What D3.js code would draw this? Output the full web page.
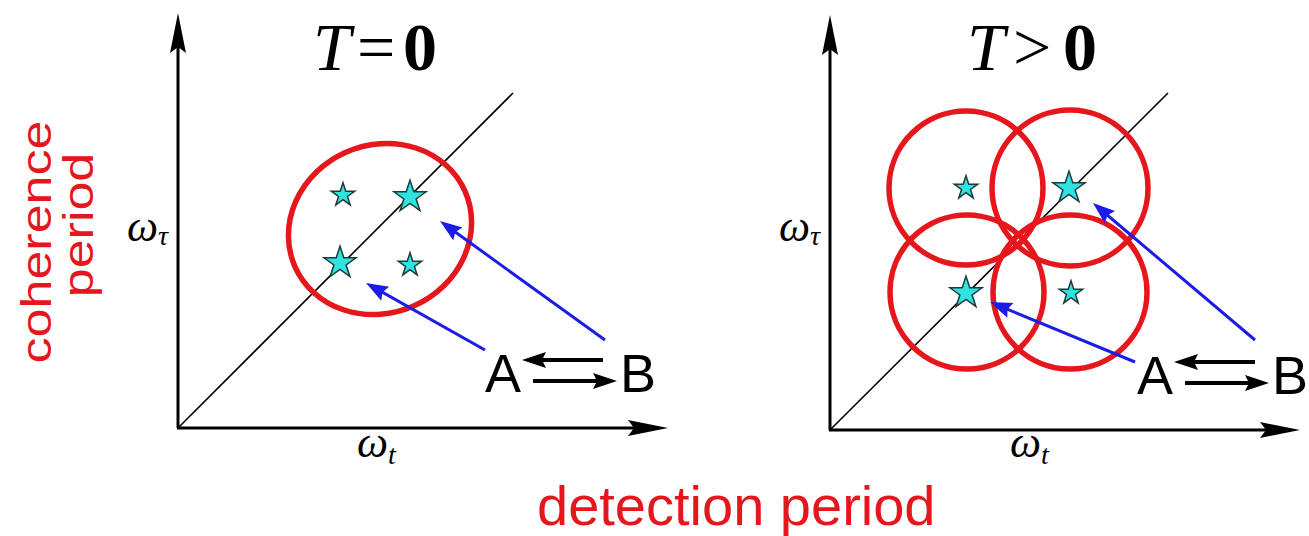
<!DOCTYPE html>
<html lang="en">
<head>
    <meta charset="UTF-8">
    <title>T=0 / T>0</title>
    <style>
        body { margin: 0; background: #fff; }
        svg { display: block; }
    </style>
</head>
<body>
<script src="https://d3js.org/d3.v7.min.js"></script>
<script>
    let w = 1309, h = 536;

    // data units: 1 unit ~ 10px, origin at the axes corner
    let titleParts = [["T", "=", "0"], ["T", ">", "0"]];
    let starsLeft = [
        {x: 16.5, y: 23.3, kind: "small"},
        {x: 23.2, y: 23.1, kind: "big"},
        {x: 16.2, y: 16.5, kind: "big"},
        {x: 23.2, y: 16.3, kind: "small"}
    ];
    let starsRight = [
        {x: 13.6, y: 24.2, kind: "small"},
        {x: 23.9, y: 24.2, kind: "big"},
        {x: 13.6, y: 13.7, kind: "big"},
        {x: 24.1, y: 13.7, kind: "small"}
    ];
    let ellipseLeft = [{cx: 20.2, cy: 19.9, rx: 9.3, ry: 8.4, angle: -24}];
    let circlesRight = [
        {cx: 13.6, cy: 24.2, r: 7.7},
        {cx: 24.0, cy: 24.2, r: 7.8},
        {cx: 13.7, cy: 13.8, r: 7.7},
        {cx: 24.0, cy: 13.8, r: 7.7}
    ];
    let diagEnd = [[33.5, 33.5], [33.8, 33.7]];
    // blue pointers: [from, to]
    let pointersLeft = [[[30.7, 7.8], [18.8, 14.5]], [[42.7, 8.8], [26.2, 20.7]]];
    let pointersRight = [[[30.5, 6.8], [16.0, 12.8]], [[42.5, 9.0], [26.3, 22.7]]];
    // A <-> B exchange arrows
    let swapArrows = [[[42.5, 6.8], [34.4, 6.8]], [[35.5, 4.7], [43.9, 4.7]]];
    let swapLabels = [{t: "A", x: 30.7, y: 3.6}, {t: "B", x: 44.2, y: 3.6}];

    let panels = [
        {ox: 178, oy: 428, xmax: 49, xlen: 490, ylen: 415, stars: starsLeft, pointers: pointersLeft,
            titleX: [313, 357, 403], tauX: 168, tX: 357},
        {ox: 830, oy: 430, xmax: 47, xlen: 470, ylen: 415, stars: starsRight, pointers: pointersRight,
            titleX: [967, 1013, 1063], tauX: 820, tX: 1010}
    ];

    let red = "#e6161d", blue = "#1c1ce6";

    let svg = d3.select("body").append("svg")
        .attr("width", w)
        .attr("height", h);

    // arrow head drawn as polygon pointing along (from -> to)
    function head(g, from, to, len, half, notch, color) {
        let dx = to[0] - from[0], dy = to[1] - from[1];
        let L = Math.sqrt(dx * dx + dy * dy);
        let ux = dx / L, uy = dy / L, nx = -uy, ny = ux;
        let b = [to[0] - ux * len, to[1] - uy * len];
        let n = [to[0] - ux * (len - notch), to[1] - uy * (len - notch)];
        g.append("polygon")
            .attr("points", [to, [b[0] + nx * half, b[1] + ny * half], n, [b[0] - nx * half, b[1] - ny * half]].join(" "))
            .attr("fill", color);
    }

    panels.forEach(function (p, i) {
        let x = d3.scaleLinear().domain([0, p.xmax]).range([p.ox, p.ox + p.xlen]);
        let y = d3.scaleLinear().domain([0, p.ylen / 10]).range([p.oy, p.oy - p.ylen]);
        let g = svg.append("g");

        // axes
        g.append("line").attr("x1", x(0)).attr("y1", y(0)).attr("x2", x(0)).attr("y2", y(p.ylen / 10) + 30)
            .attr("stroke", "#000").attr("stroke-width", 3);
        g.append("line").attr("x1", x(0) - 1).attr("y1", y(0)).attr("x2", x(p.xmax) - 30).attr("y2", y(0))
            .attr("stroke", "#000").attr("stroke-width", 3);
        head(g, [x(0), y(0)], [x(0), y(p.ylen / 10)], 40, 8, 6, "#000");
        head(g, [x(0), y(0)], [x(p.xmax), y(0)], 40, 8, 6, "#000");

        // diagonal
        g.append("line").attr("x1", x(0)).attr("y1", y(0))
            .attr("x2", x(diagEnd[i][0])).attr("y2", y(diagEnd[i][1]))
            .attr("stroke", "#000").attr("stroke-width", 1.6);

        // red rings
        if (i === 0) {
            g.selectAll("ellipse").data(ellipseLeft).enter().append("ellipse")
                .attr("transform", d => "translate(" + x(d.cx) + "," + y(d.cy) + ") rotate(" + d.angle + ")")
                .attr("rx", d => x(d.rx) - x(0))
                .attr("ry", d => y(0) - y(d.ry))
                .attr("fill", "none").attr("stroke", red).attr("stroke-width", 5.5);
        } else {
            g.selectAll("circle").data(circlesRight).enter().append("circle")
                .attr("cx", d => x(d.cx)).attr("cy", d => y(d.cy))
                .attr("r", d => x(d.r) - x(0))
                .attr("fill", "none").attr("stroke", red).attr("stroke-width", 5.5);
        }

        // stars
        g.selectAll("path.star").data(p.stars).enter().append("path")
            .attr("class", "star")
            .attr("transform", d => "translate(" + x(d.x) + "," + y(d.y) + ")")
            .attr("d", d => d3.symbol().type(d3.symbolStar).size(d.kind === "big" ? 320 : 170)())
            .attr("fill", "#2fe3e0").attr("stroke", "#1d3b3b").attr("stroke-width", 1.5)
            .attr("stroke-linejoin", "miter");

        // blue pointers
        p.pointers.forEach(function (a) {
            let f = [x(a[0][0]), y(a[0][1])], t = [x(a[1][0]), y(a[1][1])];
            let dx = t[0] - f[0], dy = t[1] - f[1], L = Math.sqrt(dx * dx + dy * dy);
            g.append("line").attr("x1", f[0]).attr("y1", f[1])
                .attr("x2", t[0] - dx / L * 12).attr("y2", t[1] - dy / L * 12)
                .attr("stroke", blue).attr("stroke-width", 3);
            head(g, f, t, 22, 8, 3, blue);
        });

        // A <-> B
        swapArrows.forEach(function (a) {
            let f = [x(a[0][0]), y(a[0][1])], t = [x(a[1][0]), y(a[1][1])];
            let s = Math.sign(t[0] - f[0]);
            g.append("line").attr("x1", f[0]).attr("y1", f[1]).attr("x2", t[0] - s * 14).attr("y2", t[1])
                .attr("stroke", "#000").attr("stroke-width", 4);
            head(g, f, t, 24, 8, 4, "#000");
        });
        g.selectAll("text.ab").data(swapLabels).enter().append("text")
            .attr("class", "ab")
            .attr("x", d => x(d.x)).attr("y", d => y(d.y))
            .attr("font-family", "Liberation Sans, Arial, sans-serif")
            .attr("font-size", 54)
            .text(d => d.t);

        // title
        let tt = g.append("text").attr("y", 70)
            .attr("font-family", "Liberation Serif, Times New Roman, serif")
            .attr("font-size", 68);
        titleParts[i].forEach(function (s, k) {
            tt.append("tspan").attr("x", p.titleX[k])
                .attr("font-style", k === 0 ? "italic" : "normal")
                .attr("font-weight", k === 2 ? "bold" : "normal")
                .text(s);
        });

        // omega labels
        let wt = g.append("text").attr("x", p.tauX).attr("y", 241)
            .attr("text-anchor", "end")
            .attr("font-family", "Liberation Serif, Times New Roman, serif")
            .attr("font-style", "italic").attr("font-size", 44);
        wt.append("tspan").text("\u03c9");
        wt.append("tspan").attr("font-size", 28).attr("dy", 4).text("\u03c4");

        let wx = g.append("text").attr("x", p.tX).attr("y", 457)
            .attr("font-family", "Liberation Serif, Times New Roman, serif")
            .attr("font-style", "italic").attr("font-size", 44);
        wx.append("tspan").text("\u03c9");
        wx.append("tspan").attr("font-size", 28).attr("dy", 7).text("t");
    });

    // shared axis titles
    svg.append("text")
        .attr("transform", "translate(51,242) rotate(-90) scale(1,0.82)")
        .attr("text-anchor", "middle")
        .attr("font-family", "Liberation Sans, Arial, sans-serif")
        .attr("font-size", 52).attr("fill", red)
        .text("coherence");
    svg.append("text")
        .attr("transform", "translate(93,225) rotate(-90) scale(1,0.82)")
        .attr("text-anchor", "middle")
        .attr("font-family", "Liberation Sans, Arial, sans-serif")
        .attr("font-size", 52).attr("fill", red)
        .text("period");
    svg.append("text")
        .attr("x", 537).attr("y", 525)
        .attr("font-family", "Liberation Sans, Arial, sans-serif")
        .attr("font-size", 56).attr("fill", red)
        .text("detection period");
</script>
</body>
</html>
